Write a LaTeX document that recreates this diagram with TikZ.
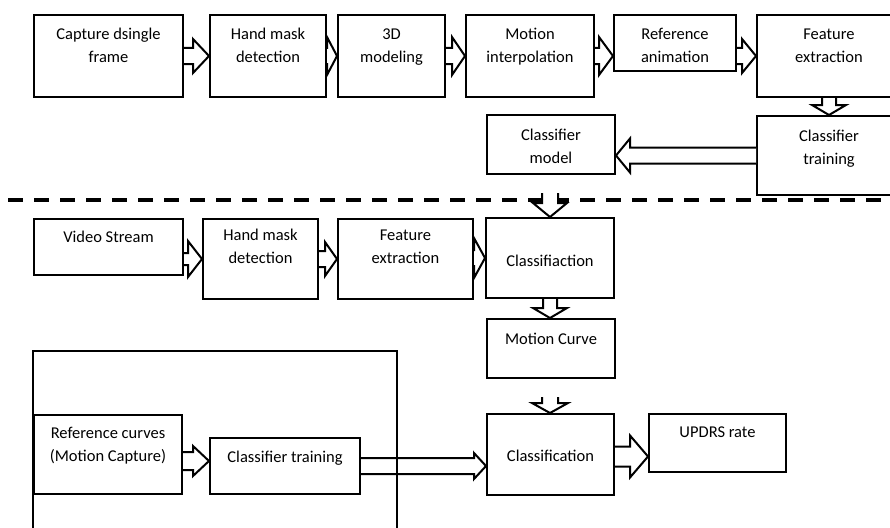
\documentclass[tikz,border=0pt]{standalone}
\usepackage{fontspec}
\setmainfont{Carlito}
\usetikzlibrary{calc}
\newcommand\bxtext[4]{\parbox[t][#2][t]{#1}{\centering\rule{0pt}{#3}#4\par}}
\newcommand\harrow[5]{%
\draw[blk] let \p1=(#1), \p2=(#2), \n1={ifthenelse(\x2>\x1,1,-1)} in
 (\x1,\y1+#5) -- (\x2-\n1*#3,\y1+#5) -- (\x2-\n1*#3,\y1+#4) -- (\x2,\y1)
 -- (\x2-\n1*#3,\y1-#4) -- (\x2-\n1*#3,\y1-#5) -- (\x1,\y1-#5);}
\newcommand\varrow[5]{%
\draw[blk] let \p1=(#1), \p2=(#2), \n1={ifthenelse(\y2>\y1,1,-1)} in
 (\x1+#5,\y1) -- (\x1+#5,\y2-\n1*#3) -- (\x1+#4,\y2-\n1*#3) -- (\x1,\y2)
 -- (\x1-#4,\y2-\n1*#3) -- (\x1-#5,\y2-\n1*#3) -- (\x1-#5,\y1);}
\begin{document}
\begin{tikzpicture}[x=1pt,y=-1pt,
  box/.style={draw, line width=2pt, inner sep=0pt, anchor=north west,
    font=\fontsize{16.5}{23}\selectfont},
  blk/.style={draw, line width=2pt, fill=white, line join=miter},
  sep/.style={line width=4pt, dash pattern=on 15pt off 11pt}]
\useasboundingbox (0,0) rectangle (890,527);
% top row
\node[box] (b1) at (33,14) {\bxtext{149pt}{82pt}{25pt}{Capture dsingle\\frame}};
\node[box] (b2) at (209,14) {\bxtext{116pt}{82pt}{25pt}{Hand mask\\detection}};
\node[box] (b3) at (337,14) {\bxtext{107pt}{82pt}{25pt}{3D\\modeling}};
\node[box] (b4) at (465,14) {\bxtext{128pt}{82pt}{25pt}{Motion\\interpolation}};
\node[box] (b5) at (613,14) {\bxtext{122pt}{56pt}{25pt}{Reference\\animation}};
\node[box] (b6) at (756,14) {\bxtext{144pt}{82pt}{25pt}{Feature\\extraction}};
\node[box] (ct) at (756,115) {\bxtext{144pt}{79pt}{25pt}{Classifier\\training}};
\node[box] (cm) at (486,114) {\bxtext{128pt}{59pt}{25pt}{Classifier\\model}};
% separator
\coordinate (sl) at (8,200);
\coordinate (sr) at (895,200);
\draw[sep] (sl) -- (sr);
% second row
\node[box] (vs) at (33,218) {\bxtext{149pt}{56pt}{23pt}{Video Stream}};
\node[box] (hm) at (202,218) {\bxtext{115pt}{80pt}{21pt}{Hand mask\\detection}};
\node[box] (fe) at (337,218) {\bxtext{135pt}{80pt}{21pt}{Feature\\extraction}};
\node[box] (cls) at (485,217) {\bxtext{128pt}{80pt}{48pt}{Classifiaction}};
\node[box] (mc) at (486,318) {\bxtext{128pt}{59pt}{25pt}{Motion Curve}};
% bottom
\node[box] (rc) at (33,414) {\bxtext{148pt}{79pt}{23pt}{Reference curves\\(Motion Capture)}};
\node[box] (ct2) at (209,437) {\bxtext{150pt}{56pt}{24pt}{Classifier training}};
\node[box] (cl2) at (486,413) {\bxtext{127pt}{81pt}{47pt}{Classification}};
\node[box] (up) at (648,413) {\bxtext{137pt}{58pt}{23pt}{UPDRS rate}};
% arrows top row
\harrow{b1.east}{b2.west}{16pt}{17pt}{8pt}
\harrow{b2.east}{b3.west}{10pt}{19pt}{7pt}
\harrow{b3.east}{b4.west}{13pt}{19pt}{8pt}
\harrow{b4.east}{b5.west}{14pt}{19pt}{8pt}
\harrow{b5.east |- b6.west}{b6.west}{14pt}{17pt}{8pt}
\varrow{b6.south}{ct.north}{10pt}{17pt}{7pt}
\harrow{ct.west}{cm.east}{14pt}{17pt}{8pt}
% arrows second row
\coordinate (in1) at (550,193);
\varrow{in1}{cls.north}{14pt}{17pt}{8pt}
\harrow{vs.east |- hm.west}{hm.west}{14pt}{18pt}{6pt}
\harrow{hm.east}{fe.west}{12pt}{17pt}{8pt}
\harrow{fe.east |- cls.west}{cls.west}{11pt}{20pt}{7pt}
\varrow{cls.south}{mc.north}{10pt}{17pt}{7pt}
% arrows bottom
\coordinate (in2) at (550,397);
\varrow{in2}{cl2.north}{10pt}{18pt}{8pt}
\harrow{$(rc.east |- ct2.west)+(0,-5)$}{ct2.west}{16pt}{15pt}{9pt}
\harrow{ct2.east}{cl2.west}{12pt}{13pt}{8pt}
\harrow{$(cl2.east)+(0,2)$}{up.west}{18pt}{21pt}{10pt}
% enclosing frame
\coordinate (f1) at (33,540);
\coordinate (f2) at (33,351);
\coordinate (f3) at (397,351);
\coordinate (f4) at (397,540);
\draw[line width=2pt] (f1) -- (f2) -- (f3) -- (f4);
\end{tikzpicture}
\end{document}
